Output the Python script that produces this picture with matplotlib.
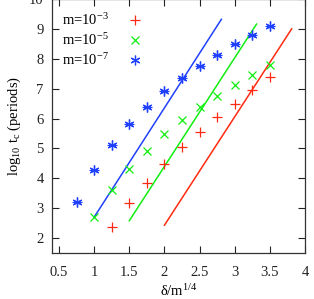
import matplotlib
matplotlib.use("Agg")
import matplotlib.pyplot as plt

# data
x_red = [1.25, 1.5, 1.75, 2.0, 2.25, 2.5, 2.75, 3.0, 3.25, 3.5]
y_red = [2.36, 3.16, 3.84, 4.48, 5.05, 5.54, 6.04, 6.49, 6.97, 7.38]
x_green = [1.0, 1.25, 1.5, 1.75, 2.0, 2.25, 2.5, 2.75, 3.0, 3.25, 3.5]
y_green = [2.71, 3.6, 4.32, 4.91, 5.47, 5.94, 6.38, 6.77, 7.12, 7.47, 7.79]
x_blue = [0.75, 1.0, 1.25, 1.5, 1.75, 2.0, 2.25, 2.5, 2.75, 3.0, 3.25, 3.5]
y_blue = [3.2, 4.27, 5.11, 5.81, 6.4, 6.93, 7.36, 7.77, 8.13, 8.49, 8.81, 9.09]
# fitted lines (endpoints)
line_red_x = [2.0, 3.81]
line_red_y = [2.43, 9.0]
line_green_x = [1.5, 3.31]
line_green_y = [2.58, 9.16]
line_blue_x = [1.0, 2.81]
line_blue_y = [2.7, 9.32]
labels = [r"m=10$^{-3}$", r"m=10$^{-5}$", r"m=10$^{-7}$"]
xticks = [0.5, 1, 1.5, 2, 2.5, 3, 3.5, 4]
yticks = [2, 3, 4, 5, 6, 7, 8, 9, 10]

RED = "#ff2a10"
GREEN = "#10ee10"
BLUE = "#2040ff"

plt.rcParams["font.family"] = ["Liberation Serif", "DejaVu Serif"]
plt.rcParams["mathtext.fontset"] = "custom"
plt.rcParams["mathtext.rm"] = "Liberation Serif"
plt.rcParams["mathtext.it"] = "Liberation Serif"

fig = plt.figure(figsize=(3.14, 2.99), dpi=100)
ax = fig.add_axes([52 / 314, 1 - 253 / 299, (305 - 52) / 314, (253 + 1) / 299])

ax.plot(line_red_x, line_red_y, color=RED, lw=1.1)
ax.plot(line_green_x, line_green_y, color=GREEN, lw=1.1)
ax.plot(line_blue_x, line_blue_y, color=BLUE, lw=1.1)

ax.plot(x_red, y_red, ls="none", marker="+", ms=7, mew=0.9, color=RED, label=labels[0])
ax.plot(x_green, y_green, ls="none", marker="x", ms=6, mew=0.9, color=GREEN, label=labels[1])
ax.plot(x_blue, y_blue, ls="none", marker=(6, 2, 0), ms=7, mew=0.9, color=BLUE, label=labels[2])
ax.plot(x_blue, y_blue, ls="none", marker="+", ms=7, mew=0.9, color=BLUE)

ax.set_xlim(0.4, 4.0)
ax.set_ylim(1.5, 10.0)
ax.set_xticks(xticks)
ax.set_xticklabels([f"{t:g}" for t in xticks])
ax.set_yticks(yticks)
ax.set_yticklabels([f"{t:g}" for t in yticks])
ax.tick_params(direction="in", length=5, width=0.8, top=True, right=True,
               labelsize=10.5, colors="#222222")
ax.tick_params(axis="x", pad=9)
ax.tick_params(axis="y", pad=6)
for s in ax.spines.values():
    s.set_color("#333333")
    s.set_linewidth(0.9)

ax.set_xlabel(r"δ/m$^{1/4}$", fontsize=10.5, labelpad=3)
ax.set_ylabel(r"log$_{10}$ t$_c$ (periods)", fontsize=10.5, labelpad=4)

leg = ax.legend(loc="upper left", frameon=False, markerfirst=False, fontsize=10.5,
                handlelength=1.0, handletextpad=1.3, labelspacing=0.3,
                borderaxespad=0.3, bbox_to_anchor=(0.0, 0.99))

fig.savefig("out.png", dpi=100)
